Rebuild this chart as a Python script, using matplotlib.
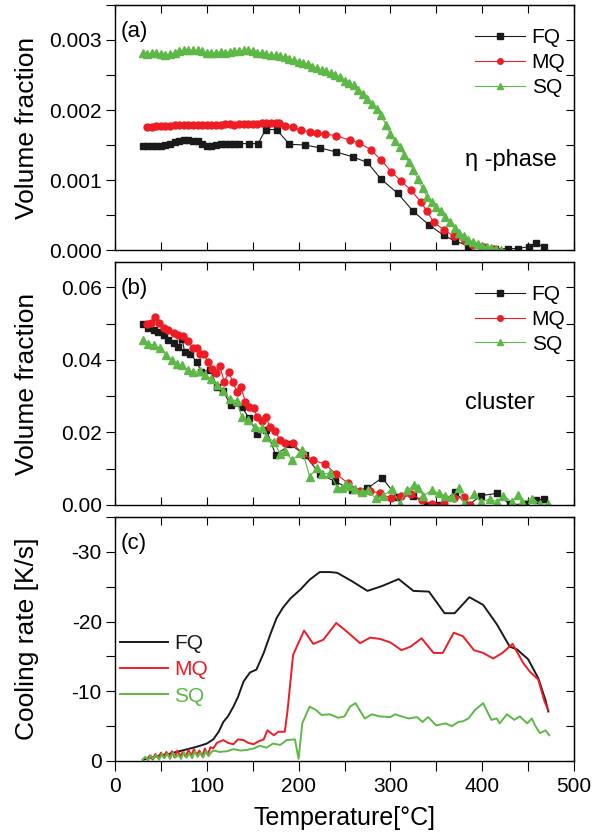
import numpy as np
import matplotlib
matplotlib.use("Agg")
import matplotlib.pyplot as plt
from matplotlib.ticker import MultipleLocator, FormatStrFormatter

plt.rcParams['font.family'] = ['Liberation Sans', 'DejaVu Sans']
plt.rcParams['axes.unicode_minus'] = False

BLACK = "#1a1a1a"
RED = "#ee1c25"
GREEN = "#5db847"

# -----------------------------
# (a) eta-phase volume fraction (x 1e-3)
# -----------------------------
t_a_fq = [30, 35, 40, 45, 50, 55, 60, 65, 70, 75, 80, 85, 90, 95, 100, 105, 110, 115, 120, 125, 130, 135,
          146, 156, 164, 176, 190, 207, 223, 241, 259, 275, 290, 308, 325, 342, 358, 370, 385, 401, 414,
          428, 439, 451, 459, 467]
v_a_fq = [1.48, 1.48, 1.48, 1.49, 1.49, 1.50, 1.52, 1.54, 1.56, 1.57, 1.57, 1.56, 1.55, 1.52, 1.49, 1.48,
          1.50, 1.51, 1.52, 1.51, 1.52, 1.52,
          1.52, 1.52, 1.72, 1.72, 1.51, 1.50, 1.46, 1.40, 1.33, 1.25, 1.01, 0.81, 0.55, 0.36, 0.21, 0.13,
          0.06, 0.04, 0.02, 0.02, 0.02, 0.05, 0.10, 0.04]

t_a_mq = [35, 40, 45, 50, 55, 60, 65, 70, 75, 80, 85, 90, 95, 100, 105, 110, 115, 120, 125, 130, 135, 140,
          145, 150, 155, 160, 165, 170, 175, 179,
          185, 194, 203, 212, 220, 229, 241, 256, 266, 279, 290, 301, 312, 322, 333, 340, 347, 358, 369,
          381, 390, 401, 412]
v_a_mq = [1.76, 1.76, 1.77, 1.77, 1.77, 1.77, 1.78, 1.78, 1.78, 1.78, 1.78, 1.79, 1.79, 1.79, 1.79, 1.79,
          1.79, 1.80, 1.80, 1.79, 1.80, 1.80, 1.80, 1.80, 1.80, 1.81, 1.81, 1.81, 1.82, 1.81,
          1.77, 1.75, 1.71, 1.69, 1.67, 1.66, 1.63, 1.57, 1.53, 1.43, 1.28, 1.12, 0.98, 0.86, 0.69, 0.55,
          0.40, 0.29, 0.20, 0.13, 0.07, 0.04, 0.01]

t_a_sq = [30, 35, 40, 45, 50, 55, 60, 65, 70, 75, 80, 85, 90, 95, 100, 105, 110, 115, 120, 125, 130, 135,
          140, 145, 150, 155, 160, 165, 170, 175, 180, 185, 190, 195, 200, 205, 210, 215, 220, 225, 230,
          235, 240, 245, 250, 255, 260, 265, 270, 275, 280, 285, 290, 295, 300, 305, 310, 315, 320, 325,
          330, 335, 340, 345, 350, 355, 360, 365, 370, 375, 380, 385, 390, 395, 400, 405, 410, 415, 420]
v_a_sq = [2.81, 2.80, 2.81, 2.82, 2.80, 2.79, 2.80, 2.82, 2.84, 2.85, 2.86, 2.85, 2.85, 2.84, 2.82, 2.81,
          2.82, 2.83, 2.82, 2.83, 2.84, 2.84, 2.85, 2.86, 2.84, 2.82, 2.81, 2.80, 2.79, 2.78, 2.77, 2.75,
          2.73, 2.71, 2.69, 2.67, 2.65, 2.62, 2.60, 2.57, 2.55, 2.53, 2.50, 2.47, 2.42, 2.39, 2.35, 2.29,
          2.23, 2.16, 2.09, 2.01, 1.93, 1.79, 1.66, 1.56, 1.47, 1.36, 1.26, 1.14, 1.01, 0.88, 0.76, 0.68,
          0.62, 0.55, 0.47, 0.40, 0.32, 0.25, 0.20, 0.15, 0.11, 0.08, 0.06, 0.04, 0.03, 0.01, 0.00]

# -----------------------------
# (b) cluster volume fraction (x 1e-2)
# -----------------------------
t_b_fq = [30, 36, 42, 47, 53, 58, 64, 69, 73, 76, 82, 89, 94, 104, 111, 118, 126, 138, 146, 155, 165, 175,
          191, 207, 223, 240, 258, 275, 291, 307, 325, 340, 354, 370, 385, 399, 416, 430, 447, 459, 467]
v_b_fq = [5.00, 4.88, 4.82, 4.77, 4.68, 4.55, 4.48, 4.36, 4.57, 4.22, 4.16, 3.95, 3.67, 3.72, 3.26, 3.14,
          2.75, 2.71, 2.39, 1.97, 2.07, 1.38, 1.67, 1.38, 0.85, 0.65, 0.41, 0.46, 0.75, 0.23, 0.26, 0.00,
          0.01, 0.35, 0.00, 0.26, 0.32, 0.02, 0.02, 0.14, 0.16]

t_b_mq = [35, 39, 44, 48, 53, 58, 64, 69, 74, 79, 85, 89, 93, 97, 101, 106, 110, 114, 119, 124, 128, 133,
          137, 142, 146, 151, 155, 160, 164, 169, 174, 180, 185, 194, 205, 216, 229, 241, 254, 267, 278,
          289, 301, 312, 322, 334, 345, 358, 369, 380, 387]
v_b_mq = [4.98, 5.03, 5.19, 5.03, 4.88, 4.82, 4.75, 4.68, 4.66, 4.52, 4.34, 4.32, 4.17, 4.16, 3.95, 3.76,
          3.63, 3.84, 3.40, 3.67, 3.40, 3.12, 3.26, 2.85, 2.71, 2.68, 2.43, 2.31, 2.43, 2.16, 2.04, 1.79,
          1.70, 1.70, 1.40, 1.24, 1.12, 0.85, 0.60, 0.39, 0.39, 0.32, 0.18, 0.26, 0.30, 0.14, 0.02, 0.03,
          0.18, 0.21, 0.00]

t_b_sq = [30, 36, 42, 49, 56, 62, 67, 73, 79, 85, 93, 98, 105, 111, 118, 125, 133, 138, 145, 153, 160, 165,
          173, 180, 185, 193, 201, 204, 212, 220, 225, 234, 242, 247, 252, 256, 261, 269, 276, 284, 292,
          302, 310, 318, 326, 330, 336, 345, 353, 360, 367, 375, 380, 391, 399, 409, 416, 423, 432, 439,
          443, 454, 463, 472]
v_b_sq = [4.55, 4.45, 4.41, 4.33, 4.13, 4.00, 3.90, 3.86, 3.72, 3.66, 3.69, 3.58, 3.47, 3.30, 3.14, 2.92,
          2.87, 2.43, 2.34, 2.16, 2.11, 1.88, 1.75, 1.40, 1.48, 1.24, 1.42, 1.51, 0.78, 1.03, 0.85, 0.88,
          0.48, 0.48, 0.57, 0.52, 0.44, 0.37, 0.40, 0.18, 0.26, 0.43, 0.03, 0.40, 0.55, 0.46, 0.26, 0.40,
          0.32, 0.26, 0.21, 0.46, 0.02, 0.29, 0.09, 0.16, 0.09, 0.26, 0.09, 0.28, 0.09, 0.17, 0.04, 0.02]

# -----------------------------
# (c) cooling rate magnitude (K/s)
# -----------------------------
t_c_fq = [31, 40, 49, 58, 67, 76, 85, 93, 100, 107, 113, 118, 123, 129, 134, 140, 147, 154, 162, 169, 176,
          183, 191, 202, 212, 223, 234, 242, 258, 275, 291, 309, 325, 342, 359, 370, 386, 401, 416, 430,
          438, 450, 461, 469, 472]
r_c_fq = [0.2, 0.5, 0.8, 1.0, 1.3, 1.6, 1.9, 2.2, 2.5, 3.1, 4.2, 5.6, 6.4, 7.8, 9.2, 11.4, 12.7, 13.1, 15.5,
          18.1, 20.5, 22.0, 23.3, 24.6, 26.0, 27.1, 27.1, 27.0, 25.8, 24.4, 25.1, 26.1, 24.4, 24.3, 21.2,
          21.2, 23.5, 22.4, 19.6, 16.4, 16.0, 14.6, 11.9, 8.7, 7.1]

t_c_mq = [35, 38, 41, 44, 47, 50, 53, 56, 59, 62, 65, 68, 71, 74, 77, 80, 83, 86, 89, 92, 95, 98, 101, 104,
          107, 111, 118, 123, 129, 134, 140, 145, 151, 156, 162, 166, 173, 178, 185, 188, 194, 198, 206,
          216, 227, 241, 254, 267, 278, 289, 300, 312, 322, 334, 347, 357, 369, 379, 391, 401, 412, 422,
          433, 445, 452, 461, 468, 472]
r_c_mq = [0.3, 0.8, 0.2, 1.0, 0.4, 1.2, 0.5, 1.3, 0.6, 1.4, 0.5, 1.5, 0.7, 1.3, 0.6, 1.6, 0.8, 1.7, 0.9,
          1.5, 0.7, 1.8, 0.9, 2.0, 1.8, 2.6, 3.0, 2.6, 2.4, 3.1, 3.0, 2.6, 2.4, 2.8, 3.1, 4.4, 3.7, 4.2,
          4.2, 7.3, 15.2, 16.4, 18.7, 16.8, 17.4, 19.8, 18.4, 16.9, 17.7, 17.5, 17.0, 15.9, 16.4, 17.6,
          15.5, 15.5, 18.4, 17.9, 15.9, 15.5, 14.7, 15.5, 16.8, 14.0, 12.8, 11.7, 8.5, 7.3]

t_c_sq = [30, 33, 36, 39, 42, 45, 48, 51, 54, 57, 60, 63, 66, 69, 72, 75, 78, 81, 84, 87, 90, 93, 96, 99,
          102, 105, 108, 114, 122, 129, 137, 144, 151, 158, 165, 172, 180, 187, 196, 200, 204, 212, 219,
          225, 234, 243, 250, 256, 262, 272, 280, 288, 300, 305, 312, 320, 329, 335, 341, 350, 360, 367,
          374, 379, 385, 392, 401, 410, 416, 419, 427, 435, 441, 449, 454, 458, 463, 469, 473]
r_c_sq = [0.2, 0.6, 0.1, 0.8, 0.3, 0.9, 0.2, 1.0, 0.4, 1.1, 0.3, 1.2, 0.5, 0.9, 0.3, 1.3, 0.5, 1.1, 0.4,
          1.4, 0.6, 1.2, 0.5, 1.5, 0.7, 1.3, 1.5, 1.3, 1.4, 1.7, 1.5, 1.6, 1.8, 2.2, 1.9, 2.5, 2.3, 3.0,
          3.1, 0.3, 5.4, 7.8, 7.3, 6.6, 6.7, 6.2, 6.4, 7.8, 8.3, 6.1, 6.7, 6.4, 6.3, 6.7, 6.4, 6.1, 6.3,
          5.6, 6.3, 5.1, 5.4, 5.0, 5.6, 5.7, 6.1, 7.3, 8.3, 5.9, 6.1, 5.4, 6.7, 5.9, 6.4, 5.4, 6.1, 5.0,
          4.0, 4.4, 3.7]

labels = ["FQ", "MQ", "SQ"]

# -----------------------------
# Layout
# -----------------------------
fig = plt.figure(figsize=(6.01, 8.32), dpi=100)
L, W = 115 / 601, 459 / 601
ax_a = fig.add_axes([L, 1 - 250 / 832, W, 245 / 832])
ax_b = fig.add_axes([L, 1 - 505 / 832, W, 243 / 832])
ax_c = fig.add_axes([L, 1 - 761 / 832, W, 244 / 832])


def frame(ax, ymaj, ymin, bottom_dir):
    ax.set_xlim(0, 500)
    ax.xaxis.set_major_locator(MultipleLocator(100))
    ax.xaxis.set_minor_locator(MultipleLocator(50))
    ax.yaxis.set_major_locator(MultipleLocator(ymaj))
    ax.yaxis.set_minor_locator(MultipleLocator(ymin))
    ax.tick_params(axis='x', which='both', direction=bottom_dir,
                   length=7.5 if bottom_dir == 'out' else 6, width=0.8, labelsize=15, pad=4)
    ax.tick_params(axis='y', which='both', direction='out', length=6.5, width=0.8,
                   labelsize=15, pad=3)
    for s in ax.spines.values():
        s.set_linewidth(1.0)
    top = ax.secondary_xaxis('top')
    top.xaxis.set_major_locator(MultipleLocator(50))
    top.tick_params(direction='in', length=6, width=0.8, labeltop=False)
    right = ax.secondary_yaxis('right')
    right.yaxis.set_major_locator(MultipleLocator(ymin))
    right.tick_params(direction='in', length=6, width=0.8, labelright=False)


legend_kw = dict(loc='upper left', bbox_to_anchor=(0.785, 0.905), frameon=False, fontsize=15,
                 handlelength=2.4, handletextpad=0.3, labelspacing=0.28, borderpad=0,
                 borderaxespad=0, markerscale=0.8)

# -----------------------------
# Panel (a)
# -----------------------------
ax_a.plot(t_a_fq, np.array(v_a_fq) * 1e-3, '-s', color=BLACK, ms=5, lw=0.8, label=labels[0])
ax_a.plot(t_a_mq, np.array(v_a_mq) * 1e-3, '-o', color=RED, ms=5, lw=0.8, label=labels[1])
ax_a.plot(t_a_sq, np.array(v_a_sq) * 1e-3, '-^', color=GREEN, ms=5.5, lw=0.8, label=labels[2])
ax_a.set_ylim(0, 0.0035)
frame(ax_a, 0.001, 0.0005, 'in')
ax_a.yaxis.set_major_formatter(FormatStrFormatter('%.3f'))
ax_a.tick_params(labelbottom=False)
ax_a.set_ylabel("Volume fraction", fontsize=19)
ax_a.yaxis.set_label_coords(-0.165, 0.5)
ax_a.text(0.012, 0.89, "(a)", transform=ax_a.transAxes, fontsize=16, va='center')
ax_a.text(0.762, 0.367, "η -phase", transform=ax_a.transAxes, fontsize=17, va='center')
ax_a.legend(**legend_kw)

# -----------------------------
# Panel (b)
# -----------------------------
ax_b.plot(t_b_fq, np.array(v_b_fq) * 1e-2, '-s', color=BLACK, ms=5, lw=0.8, label=labels[0])
ax_b.plot(t_b_mq, np.array(v_b_mq) * 1e-2, '-o', color=RED, ms=5, lw=0.8, label=labels[1])
ax_b.plot(t_b_sq, np.array(v_b_sq) * 1e-2, '-^', color=GREEN, ms=5.5, lw=0.8, label=labels[2])
ax_b.set_ylim(0, 0.067)
frame(ax_b, 0.02, 0.01, 'in')
ax_b.yaxis.set_major_formatter(FormatStrFormatter('%.2f'))
ax_b.tick_params(labelbottom=False)
ax_b.set_ylabel("Volume fraction", fontsize=19)
ax_b.yaxis.set_label_coords(-0.165, 0.5)
ax_b.text(0.012, 0.89, "(b)", transform=ax_b.transAxes, fontsize=16, va='center')
ax_b.text(0.762, 0.42, "cluster", transform=ax_b.transAxes, fontsize=17, va='center')
ax_b.legend(**legend_kw)

# -----------------------------
# Panel (c)
# -----------------------------
ax_c.plot(t_c_fq, -np.array(r_c_fq), color=BLACK, lw=1.4, label=labels[0])
ax_c.plot(t_c_mq, -np.array(r_c_mq), color=RED, lw=1.4, label=labels[1])
ax_c.plot(t_c_sq, -np.array(r_c_sq), color=GREEN, lw=1.4, label=labels[2])
ax_c.set_ylim(0, -35)
frame(ax_c, 10, 5, 'out')
ax_c.yaxis.set_major_formatter(FormatStrFormatter('%d'))
ax_c.set_ylabel("Cooling rate [K/s]", fontsize=19)
ax_c.yaxis.set_label_coords(-0.165, 0.5)
ax_c.set_xlabel("Temperature[°C]", fontsize=18, labelpad=7)
ax_c.text(0.012, 0.89, "(c)", transform=ax_c.transAxes, fontsize=16, va='center')
ax_c.legend(loc='upper left', bbox_to_anchor=(0.01, 0.52), frameon=False, fontsize=15,
            handlelength=2.3, handletextpad=0.3, labelspacing=0.35, borderpad=0,
            borderaxespad=0, labelcolor='linecolor')

plt.savefig("out.png", dpi=100)
